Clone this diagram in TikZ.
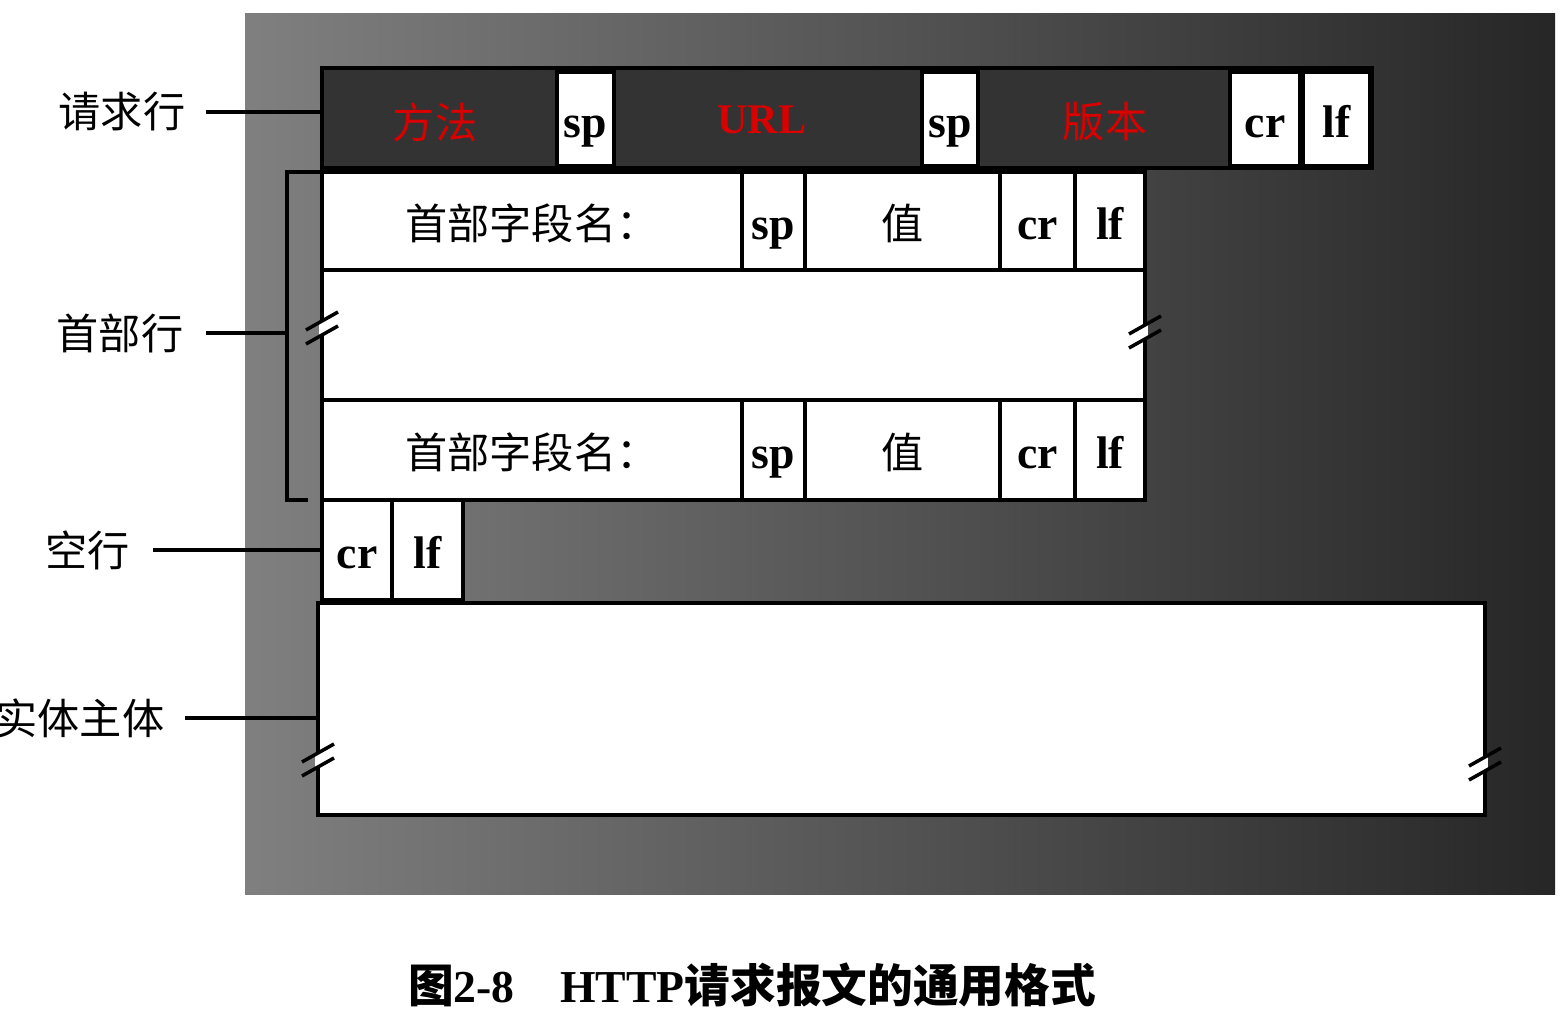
\documentclass[tikz,border=0pt]{standalone}
\usepackage{fontspec}
\setmainfont{Liberation Serif}
\newfontfamily\cjk{Noto Sans CJK SC}
\usetikzlibrary{positioning}

\tikzset{
  field/.style={draw, line width=1.4pt, fill=white, inner sep=0pt, outer sep=0pt,
    text height=12pt, text depth=1.2pt, font=\fontsize{13}{13}\selectfont\bfseries},
  hanzi/.style={font=\fontsize{12}{12}\selectfont\cjk},
  redtxt/.style={text=red!85!black, inner sep=0pt},
  lbl/.style={font=\fontsize{12}{12}\selectfont\cjk, inner sep=0pt},
  conn/.style={line width=1pt},
}

\begin{document}
\begin{tikzpicture}[x=0.1mm, y=-0.1mm]
  \useasboundingbox (0,0) rectangle (1565,1010);
  \fill[white] (0,0) rectangle (1565,1010);
  \shade[left color=black!50, right color=black!85] (245,14) rectangle (1555,895);

  % request line
  \node[draw, line width=1.4pt, fill=black!80, inner sep=0pt, outer sep=0pt,
        minimum width=105mm, minimum height=10mm, anchor=north west] (req) at (322,68) {};
  \node[redtxt, hanzi] (method) at (435,122) {方法};
  \node[redtxt, font=\fontsize{12}{12}\selectfont\bfseries] (url) at (762,120) {URL};
  \node[redtxt, hanzi] (version) at (1105,122) {版本};
  \node[field, minimum width=5.7mm, minimum height=9.4mm, anchor=north west] (spa) at (557,72) {sp};
  \node[field, minimum width=5.6mm, minimum height=9.4mm, anchor=north west] (spb) at (922,72) {sp};
  \node[field, minimum width=7mm, minimum height=9.4mm, anchor=north west] (cra) at (1230,72) {cr};
  \node[field, minimum width=6.7mm, minimum height=9.4mm, anchor=north west] (lfa) at (1303,72) {lf};

  % header lines
  \node[field, hanzi, minimum width=42mm, minimum height=9.8mm, anchor=north west] (namea) at (322,172) {首部字段名：};
  \node[field, minimum width=6.3mm, minimum height=9.8mm, right=0pt of namea] (spc) {sp};
  \node[field, hanzi, minimum width=19.5mm, minimum height=9.8mm, right=0pt of spc] (vala) {值};
  \node[field, minimum width=7.5mm, minimum height=9.8mm, right=0pt of vala] (crc) {cr};
  \node[field, minimum width=7mm, minimum height=9.8mm, right=0pt of crc] (lfc) {lf};
  \node[field, minimum width=82.3mm, minimum height=13mm, anchor=north west] (hmid) at (322,270) {};
  \node[field, hanzi, minimum width=42mm, minimum height=10mm, anchor=north west] (nameb) at (322,400) {首部字段名：};
  \node[field, minimum width=6.3mm, minimum height=10mm, right=0pt of nameb] (spd) {sp};
  \node[field, hanzi, minimum width=19.5mm, minimum height=10mm, right=0pt of spd] (valb) {值};
  \node[field, minimum width=7.5mm, minimum height=10mm, right=0pt of valb] (crd) {cr};
  \node[field, minimum width=7mm, minimum height=10mm, right=0pt of crd] (lfd) {lf};

  % blank line and body
  \node[field, minimum width=7mm, minimum height=10mm, anchor=north west] (crb) at (322,500) {cr};
  \node[field, minimum width=7.1mm, minimum height=10mm, right=0pt of crb] (lfb) {lf};
  \node[field, minimum width=116.7mm, minimum height=21.2mm, anchor=north west] (body) at (318,603) {};

  % breaks
  \foreach \bx/\by in {322/328, 1145/332, 318/760, 1485/764} {
    \draw[white, line width=1.8pt] (\bx,\by-7) -- (\bx,\by+7);
    \draw[conn] (\bx-16,\by+2) -- (\bx+16,\by-16);
    \draw[conn] (\bx-16,\by+16) -- (\bx+16,\by-2);
  }

  % labels
  \node[lbl] (reqlbl) at (122,112) {请求行};
  \node[lbl] (hdrlbl) at (120,333) {首部行};
  \node[lbl] (blanklbl) at (88,550) {空行};
  \node[lbl] (bodylbl) at (80,718) {实体主体};

  \coordinate (brtop) at (287,172);
  \coordinate (brbot) at (287,500);
  \draw[line width=1.4pt] (namea.north west) -- (brtop) -- (brbot) -- ++(21,0);

  \draw[conn] ([xshift=2mm]reqlbl.east) -- (reqlbl.east -| req.west);
  \draw[conn] ([xshift=2.2mm]hdrlbl.east) -- (hdrlbl.east -| brtop);
  \draw[conn] ([xshift=2.2mm]blanklbl.east) -- (blanklbl.east -| crb.west);
  \draw[conn] ([xshift=2mm]bodylbl.east) -- (bodylbl.east -| body.west);

  \node[font=\fontsize{13}{13}\selectfont\bfseries] (caption) at (752,985)
    {{\cjk 图}2-8\quad HTTP{\cjk 请求报文的通用格式}};
\end{tikzpicture}
\end{document}
